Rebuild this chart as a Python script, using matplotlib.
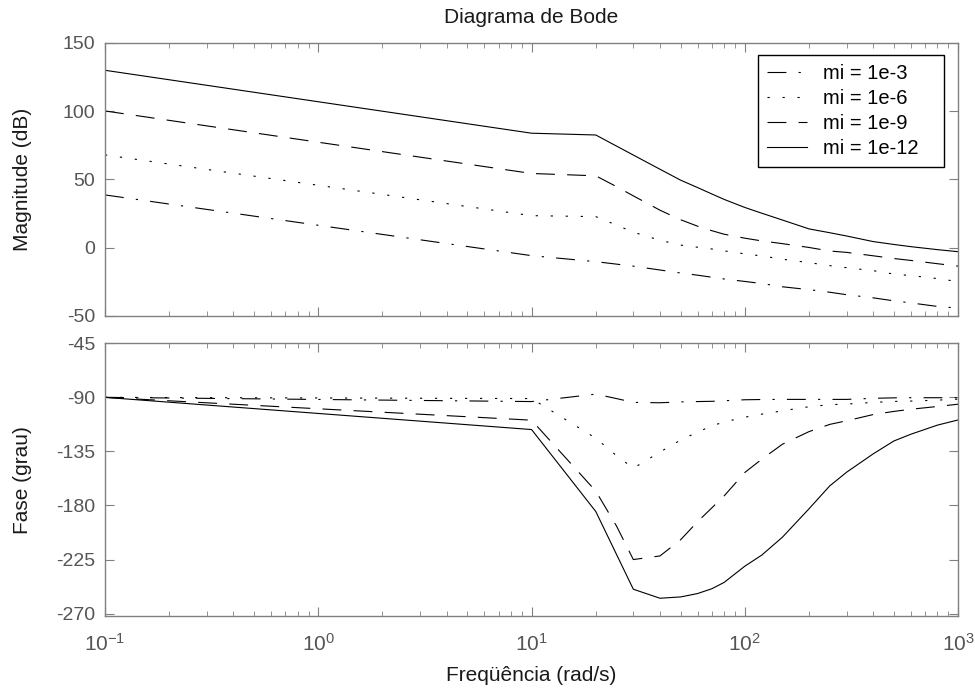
import matplotlib
matplotlib.use('Agg')
import matplotlib.pyplot as plt
from matplotlib.ticker import LogLocator, FixedLocator, NullFormatter

plt.rcParams['font.family'] = ['Liberation Sans', 'DejaVu Sans']
plt.rcParams['mathtext.fontset'] = 'custom'
plt.rcParams['mathtext.rm'] = 'Liberation Sans'
plt.rcParams['axes.unicode_minus'] = False

# frequencies (rad/s)
freq = [0.1, 10, 20, 25, 30, 40, 50, 60, 70, 80, 100, 120, 150,
        200, 250, 300, 400, 500, 600, 800, 1000]

# magnitude (dB)
mag_1e3 = [38.7, -5.8, -10.2, -12.0, -13.5, -16.3, -18.5, -20.1, -21.6, -22.9,
           -24.7, -26.2, -28.6, -30.7, -32.6, -34.4, -36.7, -38.9, -40.4, -43.0, -44.2]
mag_1e6 = [68.0, 23.5, 22.8, 16.6, 11.4, 5.5, 1.9, 0.4, -0.9, -2.3,
           -4.5, -6.0, -8.4, -10.9, -13.1, -14.6, -16.8, -19.3, -20.4, -22.6, -24.8]
mag_1e9 = [100.2, 54.4, 52.7, 44.8, 38.0, 27.5, 20.5, 15.8, 12.5, 9.9,
           7.0, 5.0, 3.0, 0.2, -2.4, -3.4, -5.9, -7.9, -9.3, -11.7, -13.5]
mag_1e12 = [130.0, 83.9, 82.6, 74.5, 67.9, 57.5, 49.5, 44.1, 39.4, 35.4,
            29.5, 25.3, 20.3, 13.8, 11.0, 8.6, 4.5, 2.4, 0.8, -1.4, -2.9]

# phase (deg)
ph_1e3 = [-90.0, -93.5, -87.3, -91.0, -94.2, -94.5, -93.8, -93.5, -93.3, -92.8,
          -92.0, -91.8, -91.7, -91.7, -91.7, -91.7, -90.8, -90.4, -90.3, -90.3, -90.3]
ph_1e6 = [-90.0, -91.0, -124.0, -138.5, -149.0, -135.5, -125.5, -119.0, -113.7, -110.5,
          -106.5, -104.0, -101.2, -97.8, -96.1, -95.6, -94.2, -93.4, -93.1, -92.3, -91.5]
ph_1e9 = [-90.0, -109.0, -168.0, -197.0, -225.0, -222.0, -208.5, -193.5, -182.0, -172.0,
          -152.5, -141.5, -129.0, -118.5, -112.5, -109.5, -104.3, -101.7, -99.9, -97.6, -95.7]
ph_1e12 = [-90.0, -116.8, -185.0, -220.6, -249.7, -257.2, -256.1, -253.3, -249.3, -244.0,
           -230.5, -221.3, -206.4, -182.7, -163.7, -152.3, -137.0, -126.3, -120.7, -113.1, -108.8]

labels = ['mi = 1e-3', 'mi = 1e-6', 'mi = 1e-9', 'mi = 1e-12']
mags = [mag_1e3, mag_1e6, mag_1e9, mag_1e12]
phases = [ph_1e3, ph_1e6, ph_1e9, ph_1e12]

mag_ticks = [150, 100, 50, 0, -50]
ph_ticks = [-45, -90, -135, -180, -225, -270]
x_ticks = [0.1, 1, 10, 100, 1000]
x_labels = ['$\\mathregular{10^{-1}}$', '$\\mathregular{10^{0}}$', '$\\mathregular{10^{1}}$',
            '$\\mathregular{10^{2}}$', '$\\mathregular{10^{3}}$']

styles = [
    dict(linestyle=(0, (17, 11, 2, 11))),
    dict(linestyle=(0, (2, 11.5))),
    dict(linestyle=(0, (17, 11))),
    dict(linestyle='-'),
]

fig = plt.figure(figsize=(9.75, 6.91), dpi=100)
ax1 = fig.add_axes([0.1077, 0.5427, 0.875, 0.3951])
ax2 = fig.add_axes([0.1077, 0.1085, 0.875, 0.3947])

txt = '#1a1a1a'
tick_txt = '#555555'
for ax in (ax1, ax2):
    ax.set_xscale('log')
    ax.set_xlim(0.1, 1000)
    ax.xaxis.set_major_locator(FixedLocator(x_ticks))
    ax.xaxis.set_minor_locator(LogLocator(base=10, subs=range(2, 10), numticks=20))
    ax.xaxis.set_minor_formatter(NullFormatter())
    ax.tick_params(which='both', direction='in', top=True, right=True,
                   colors='#808080', labelcolor=tick_txt, labelsize=14)
    ax.tick_params(which='major', length=6.5)
    ax.tick_params(which='minor', length=3.6)
    ax.tick_params(axis='y', pad=7)
    for s in ax.spines.values():
        s.set_color('#808080')
        s.set_linewidth(1.0)

for m, st, lab in zip(mags, styles, labels):
    ax1.plot(freq, m, color='black', linewidth=0.8, label=lab, **st)
for p, st in zip(phases, styles):
    ax2.plot(freq, p, color='black', linewidth=0.8, **st)

ax1.set_ylim(-50, 150)
ax1.set_yticks(mag_ticks)
ax1.set_xticklabels([])
ax1.set_ylabel('Magnitude (dB)', fontsize=15, color=txt)
ax1.yaxis.set_label_coords(-0.0856, 0.5)
ax1.text(0.5, 1.095, 'Diagrama de Bode', transform=ax1.transAxes,
         ha='center', va='center', fontsize=15, color=txt)

ax2.set_ylim(-272, -45)
ax2.set_yticks(ph_ticks)
ax2.set_xticklabels(x_labels, fontsize=15)
ax2.tick_params(axis='x', pad=12)
ax2.set_ylabel('Fase (grau)', fontsize=15, color=txt)
ax2.yaxis.set_label_coords(-0.0856, 0.5)
ax2.set_xlabel('Freqüência (rad/s)', fontsize=15, color=txt)
ax2.xaxis.set_label_coords(0.5, -0.183)

leg = ax1.legend(loc='upper left', bbox_to_anchor=(0.7655, 0.0, 0.2181, 0.956),
                 mode='expand', borderaxespad=0, fancybox=False, framealpha=1,
                 edgecolor='black', fontsize=14.5, handlelength=2.0, handletextpad=0.75,
                 labelspacing=0.3, borderpad=0.45)
leg.get_frame().set_linewidth(1.0)

plt.savefig('out.png', dpi=100)
